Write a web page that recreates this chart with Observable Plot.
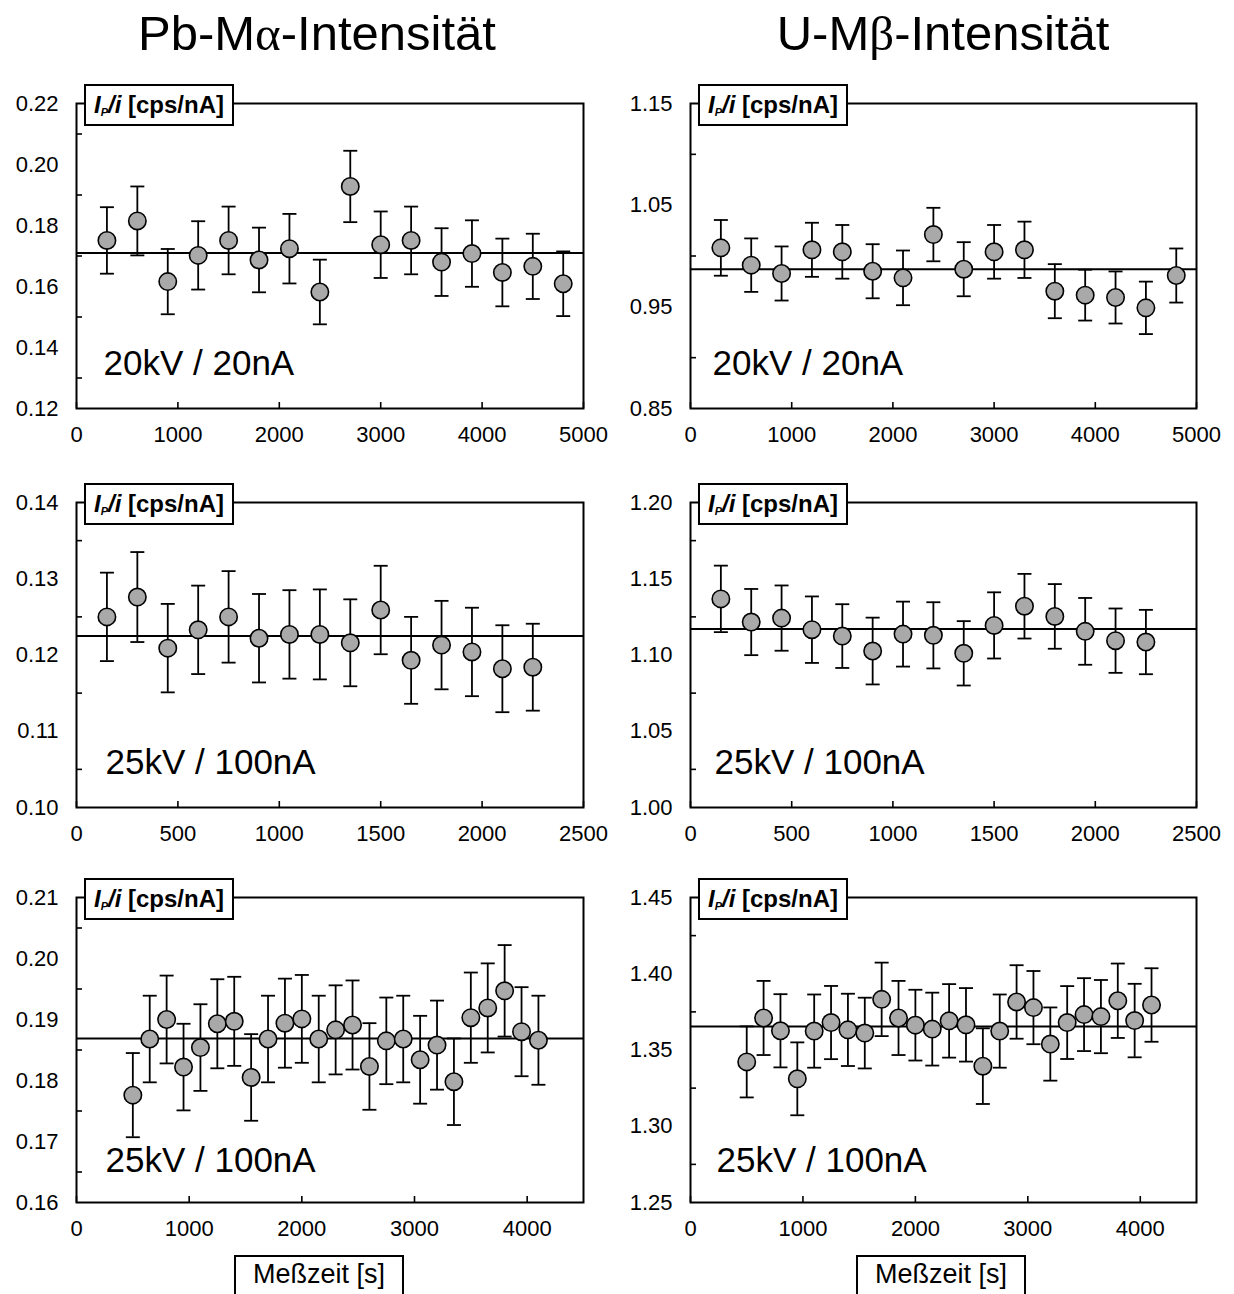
<!DOCTYPE html>
<html>
<head>
<meta charset="utf-8">
<script src="https://cdn.jsdelivr.net/npm/d3@7"></script>
<script src="https://cdn.jsdelivr.net/npm/@observablehq/plot@0.6"></script>
<style>
  html, body { margin: 0; padding: 0; background: #fff; }
  #fig { position: relative; width: 1234px; height: 1294px; overflow: hidden; background: #fff; font-family: "Liberation Sans", Arial, sans-serif; color: #000; }
  .panel { position: absolute; }
  .title { position: absolute; top: 9px; width: 500px; text-align: center; font-size: 49px; line-height: 49px; white-space: nowrap; }
  .greek { font-family: "Liberation Serif", "DejaVu Serif", serif; }
  .ylab { position: absolute; width: 150px; height: 42px; box-sizing: border-box; border: 2px solid #000; background: #fff;
          display: flex; align-items: center; justify-content: center; font-weight: bold; font-size: 24px; white-space: nowrap; }
  .ylab sub { font-size: 11px; vertical-align: -3px; }
  .xlab { position: absolute; top: 1255px; width: 170px; height: 60px; box-sizing: border-box; border: 2px solid #000; background: #fff;
          font-size: 27px; line-height: 27px; text-align: center; padding-top: 4px; white-space: nowrap; }
</style>
</head>
<body>
<div id="fig"></div>
<script>
// ---------- data ----------
const titles = ["Pb-M", "U-M"];
const titleGreek = ["α", "β"];
const titleTail = ["-Intensität", "-Intensität"];
const yLabelText = ["P", "[cps/nA]"];
const xLabelText = "Meßzeit [s]";
const conditions = ["20kV / 20nA", "20kV / 20nA", "25kV / 100nA", "25kV / 100nA", "25kV / 100nA", "25kV / 100nA"];

// Row 1: 20 kV / 20 nA
const time20 = [300, 600, 900, 1200, 1500, 1800, 2100, 2400, 2700, 3000, 3300, 3600, 3900, 4200, 4500, 4800];
const pb20 = [0.1751, 0.1815, 0.1616, 0.1702, 0.1751, 0.1687, 0.1724, 0.1582, 0.1928, 0.1737, 0.1751, 0.1680, 0.1708, 0.1646, 0.1666, 0.1609];
const pb20Err = [0.0109, 0.0113, 0.0107, 0.0112, 0.0111, 0.0106, 0.0114, 0.0106, 0.0117, 0.0109, 0.0111, 0.0111, 0.0109, 0.0111, 0.0107, 0.0106];
const pb20Mean = 0.1710;
const u20 = [1.0080, 0.9910, 0.9828, 1.0061, 1.0041, 0.9850, 0.9785, 1.0211, 0.9870, 1.0041, 1.0061, 0.9654, 0.9615, 0.9592, 0.9490, 0.9808];
const u20Err = [0.0274, 0.0263, 0.0266, 0.0266, 0.0264, 0.0266, 0.0269, 0.0263, 0.0266, 0.0264, 0.0277, 0.0266, 0.0250, 0.0256, 0.0258, 0.0266];
const u20Mean = 0.9870;

// Row 2: 25 kV / 100 nA (short)
const time25a = [150, 300, 450, 600, 750, 900, 1050, 1200, 1350, 1500, 1650, 1800, 1950, 2100, 2250];
const pb25a = [0.1250, 0.1276, 0.1209, 0.1233, 0.1250, 0.1222, 0.1227, 0.1227, 0.1216, 0.1259, 0.1193, 0.1213, 0.1204, 0.1182, 0.1184];
const pb25aErr = [0.0058, 0.0059, 0.0058, 0.0058, 0.0060, 0.0058, 0.0058, 0.0059, 0.0057, 0.0058, 0.0057, 0.0058, 0.0058, 0.0057, 0.0057];
const pb25aMean = 0.1225;
const u25a = [1.1368, 1.1216, 1.1242, 1.1166, 1.1124, 1.1026, 1.1137, 1.1129, 1.1011, 1.1194, 1.1320, 1.1253, 1.1155, 1.1094, 1.1085];
const u25aErr = [0.0218, 0.0217, 0.0214, 0.0218, 0.0209, 0.0219, 0.0213, 0.0217, 0.0211, 0.0217, 0.0212, 0.0212, 0.0219, 0.0211, 0.0211];
const u25aMean = 1.1170;

// Row 3: 25 kV / 100 nA (long)
const time25b = [500, 650, 800, 950, 1100, 1250, 1400, 1550, 1700, 1850, 2000, 2150, 2300, 2450, 2600, 2750, 2900, 3050, 3200, 3350, 3500, 3650, 3800, 3950, 4100];
const pb25b = [0.1776, 0.1868, 0.1900, 0.1822, 0.1854, 0.1893, 0.1897, 0.1805, 0.1868, 0.1894, 0.1901, 0.1868, 0.1883, 0.1891, 0.1823, 0.1865, 0.1868, 0.1834, 0.1858, 0.1798, 0.1903, 0.1919, 0.1947, 0.1880, 0.1866];
const pb25bErr = [0.0069, 0.0071, 0.0072, 0.0071, 0.0071, 0.0073, 0.0073, 0.0071, 0.0071, 0.0073, 0.0072, 0.0071, 0.0073, 0.0073, 0.0071, 0.0071, 0.0071, 0.0072, 0.0073, 0.0071, 0.0074, 0.0073, 0.0075, 0.0073, 0.0073];
const pb25bMean = 0.1869;
const u25b = [1.3422, 1.3710, 1.3626, 1.3311, 1.3624, 1.3680, 1.3632, 1.3611, 1.3832, 1.3710, 1.3663, 1.3637, 1.3691, 1.3665, 1.3394, 1.3624, 1.3815, 1.3778, 1.3539, 1.3680, 1.3732, 1.3719, 1.3823, 1.3693, 1.3795];
const u25bErr = [0.0233, 0.0243, 0.0240, 0.0239, 0.0240, 0.0240, 0.0237, 0.0232, 0.0241, 0.0243, 0.0232, 0.0239, 0.0241, 0.0241, 0.0248, 0.0240, 0.0241, 0.0240, 0.0240, 0.0239, 0.0239, 0.0240, 0.0244, 0.0241, 0.0241];
const u25bMean = 1.3654;

// axes: domains and tick values
const xDomain20 = [0, 5000];
const xTicks20 = [0, 1000, 2000, 3000, 4000, 5000];
const xDomain25a = [0, 2500];
const xTicks25a = [0, 500, 1000, 1500, 2000, 2500];
const xDomain25b = [0, 4500];
const xTicks25b = [0, 1000, 2000, 3000, 4000];

const pb20Domain = [0.12, 0.22];
const pb20Labels = [0.12, 0.14, 0.16, 0.18, 0.20, 0.22];
const pb20Minor = [0.13, 0.15, 0.17, 0.19, 0.21];
const u20Domain = [0.85, 1.15];
const u20Labels = [0.85, 0.95, 1.05, 1.15];
const u20Minor = [0.90, 1.00, 1.10];
const pb25aDomain = [0.10, 0.14];
const pb25aLabels = [0.10, 0.11, 0.12, 0.13, 0.14];
const pb25aMinor = [0.105, 0.115, 0.125, 0.135];
const u25aDomain = [1.00, 1.20];
const u25aLabels = [1.00, 1.05, 1.10, 1.15, 1.20];
const u25aMinor = [1.025, 1.075, 1.125, 1.175];
const pb25bDomain = [0.16, 0.21];
const pb25bLabels = [0.16, 0.17, 0.18, 0.19, 0.20, 0.21];
const pb25bMinor = [0.165, 0.175, 0.185, 0.195, 0.205];
const u25bDomain = [1.25, 1.45];
const u25bLabels = [1.25, 1.30, 1.35, 1.40, 1.45];
const u25bMinor = [1.275, 1.325, 1.375, 1.425];

// ---------- layout ----------
const colLeft = [0, 617];
const colMarginLeft = [76, 73];
const colMarginRight = [34, 38];
const rowTop = [83, 482, 877];
const MT = 20, FH = 305, MB = 50;
const noteDx = [[27, 22], [29, 24], [29, 26]];
const noteDy = [-34, -34, -31];

const panels = [
  {row: 0, col: 0, t: time20, v: pb20, e: pb20Err, m: pb20Mean, xd: xDomain20, xt: xTicks20, yd: pb20Domain, yl: pb20Labels, ym: pb20Minor, note: conditions[0]},
  {row: 0, col: 1, t: time20, v: u20, e: u20Err, m: u20Mean, xd: xDomain20, xt: xTicks20, yd: u20Domain, yl: u20Labels, ym: u20Minor, note: conditions[1]},
  {row: 1, col: 0, t: time25a, v: pb25a, e: pb25aErr, m: pb25aMean, xd: xDomain25a, xt: xTicks25a, yd: pb25aDomain, yl: pb25aLabels, ym: pb25aMinor, note: conditions[2]},
  {row: 1, col: 1, t: time25a, v: u25a, e: u25aErr, m: u25aMean, xd: xDomain25a, xt: xTicks25a, yd: u25aDomain, yl: u25aLabels, ym: u25aMinor, note: conditions[3]},
  {row: 2, col: 0, t: time25b, v: pb25b, e: pb25bErr, m: pb25bMean, xd: xDomain25b, xt: xTicks25b, yd: pb25bDomain, yl: pb25bLabels, ym: pb25bMinor, note: conditions[4]},
  {row: 2, col: 1, t: time25b, v: u25b, e: u25bErr, m: u25bMean, xd: xDomain25b, xt: xTicks25b, yd: u25bDomain, yl: u25bLabels, ym: u25bMinor, note: conditions[5]}
];

const capSymbol = {
  draw(context, size) {
    const r = Math.sqrt(size / Math.PI);
    context.moveTo(-r, 0);
    context.lineTo(r, 0);
  }
};

const fig = document.getElementById("fig");

for (const p of panels) {
  const data = p.t.map((t, i) => ({t, v: p.v[i], lo: p.v[i] - p.e[i], hi: p.v[i] + p.e[i]}));
  const chart = Plot.plot({
    width: 617,
    height: MT + FH + MB,
    marginLeft: colMarginLeft[p.col],
    marginRight: colMarginRight[p.col],
    marginTop: MT,
    marginBottom: MB,
    style: {fontFamily: "'Liberation Sans', Arial, sans-serif", fontSize: "22px", background: "transparent", overflow: "visible", color: "#000"},
    x: {domain: p.xd},
    y: {domain: p.yd},
    marks: [
      Plot.ruleY([p.m], {stroke: "#000", strokeWidth: 2}),
      Plot.ruleX(data, {x: "t", y1: "lo", y2: "hi", stroke: "#000", strokeWidth: 1.8}),
      Plot.dot(data, {x: "t", y: "hi", r: 7, symbol: capSymbol, stroke: "#000", strokeWidth: 1.8, fill: "none"}),
      Plot.dot(data, {x: "t", y: "lo", r: 7, symbol: capSymbol, stroke: "#000", strokeWidth: 1.8, fill: "none"}),
      Plot.dot(data, {x: "t", y: "v", r: 8.7, fill: "#a9a9a9", stroke: "#000", strokeWidth: 1.6}),
      Plot.axisY(p.yl, {label: null, tickSize: 0, tickPadding: 18, fontSize: 22, tickFormat: d3.format(".2f")}),
      Plot.axisY(p.ym, {label: null, tickSize: -6, tickPadding: 0, strokeWidth: 1.6, tickFormat: () => ""}),
      Plot.axisX(p.xt, {label: null, tickSize: -6, tickPadding: 24, fontSize: 22, strokeWidth: 1.6, tickFormat: d3.format("d")}),
      Plot.text([p.note], {frameAnchor: "bottom-left", textAnchor: "start", lineAnchor: "bottom", dx: noteDx[p.row][p.col], dy: noteDy[p.row], fontSize: 35, fill: "#000"}),
      Plot.frame({stroke: "#000", strokeWidth: 2})
    ]
  });
  chart.classList.add("panel");
  chart.style.left = colLeft[p.col] + "px";
  chart.style.top = rowTop[p.row] + "px";
  fig.appendChild(chart);

  // y-quantity label box
  const lab = document.createElement("div");
  lab.className = "ylab";
  lab.style.left = (colLeft[p.col] + colMarginLeft[p.col] + 8) + "px";
  lab.style.top = (rowTop[p.row] + MT - 19) + "px";
  lab.innerHTML = `<span><i>I<sub>${yLabelText[0]}</sub>/i</i>&nbsp;${yLabelText[1]}</span>`;
  fig.appendChild(lab);
}

// column titles
const titleCenter = [317, 943];
titles.forEach((t, i) => {
  const d = document.createElement("div");
  d.className = "title";
  d.style.left = (titleCenter[i] - 250) + "px";
  d.innerHTML = `${t}<span class="greek">${titleGreek[i]}</span>${titleTail[i]}`;
  fig.appendChild(d);
});

// x-axis labels
const xLabLeft = [234, 856];
xLabLeft.forEach(l => {
  const d = document.createElement("div");
  d.className = "xlab";
  d.style.left = l + "px";
  d.textContent = xLabelText;
  fig.appendChild(d);
});
</script>
</body>
</html>
